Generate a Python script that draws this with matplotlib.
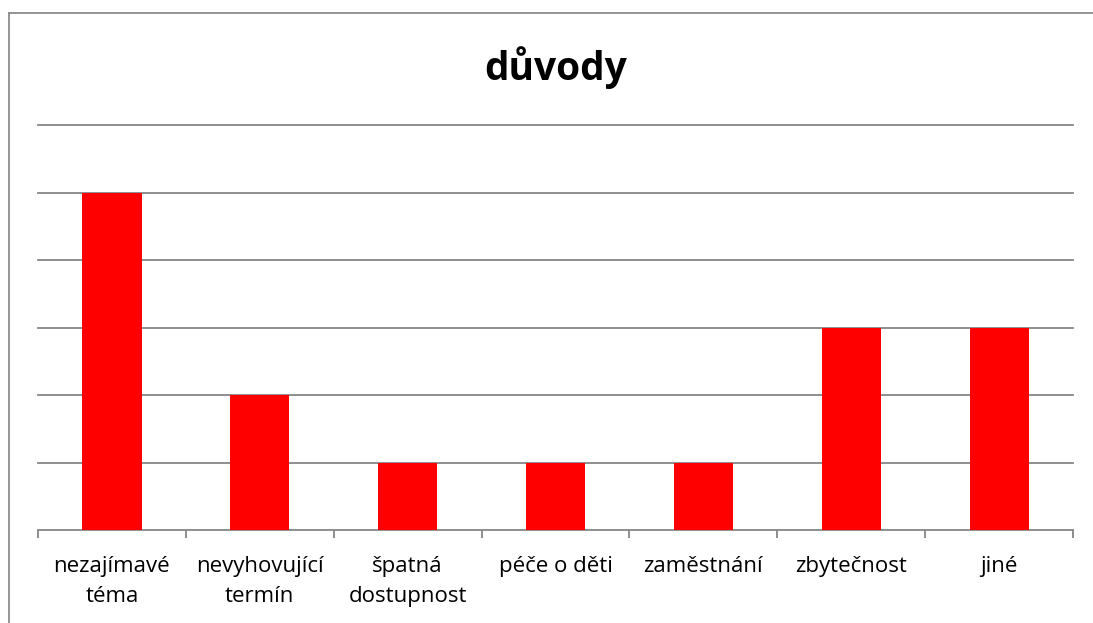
import numpy as np
import matplotlib.pyplot as plt
from matplotlib.lines import Line2D

plt.rcParams['font.family'] = ['Open Sans', 'DejaVu Sans']

categories = ['nezajímavé\ntéma', 'nevyhovující\ntermín', 'špatná\ndostupnost',
              'péče o děti', 'zaměstnání', 'zbytečnost', 'jiné']
values = [5, 2, 1, 1, 1, 3, 3]

grid_col = '#868686'

fig = plt.figure(figsize=(10.93, 6.23), dpi=100)
ax = fig.add_axes([38 / 1093, 1 - 530 / 623, (1073 - 38) / 1093, (530 - 125) / 623])

x = np.arange(len(categories))
ax.bar(x, values, width=0.4, color='#ff0000', zorder=3)

ax.set_xlim(-0.5, len(categories) - 0.5)
ax.set_ylim(0, 6)
ax.set_yticks(np.arange(1, 7))
ax.set_yticklabels([])
ax.tick_params(axis='y', length=0)
ax.yaxis.grid(True, color=grid_col, linewidth=1.3, zorder=0)
for gl in ax.get_ygridlines():
    gl.set_clip_on(False)

ax.set_xticks(x)
ax.set_xticklabels(categories, fontsize=16, linespacing=1.55)
ax.tick_params(axis='x', which='major', length=0, pad=19)
ax.set_xticks(np.arange(-0.5, len(categories)), minor=True)
ax.tick_params(axis='x', which='minor', length=6, color=grid_col, width=1.3)

for s in ['top', 'right', 'left']:
    ax.spines[s].set_visible(False)
ax.spines['bottom'].set_color(grid_col)
ax.spines['bottom'].set_linewidth(1.3)

fig.text(556 / 1093, 1 - 68 / 623, 'důvody', fontsize=28, fontweight='bold',
         ha='center', va='center')

# outer chart frame (top and left edge visible)
fig.add_artist(Line2D([8.5 / 1093, 1], [1 - 12.5 / 623, 1 - 12.5 / 623],
                      transform=fig.transFigure, color='#8c8c8c', linewidth=1.3))
fig.add_artist(Line2D([8.5 / 1093, 8.5 / 1093], [0, 1 - 12.5 / 623],
                      transform=fig.transFigure, color='#8c8c8c', linewidth=1.3))

fig.savefig('out.png', dpi=100)
